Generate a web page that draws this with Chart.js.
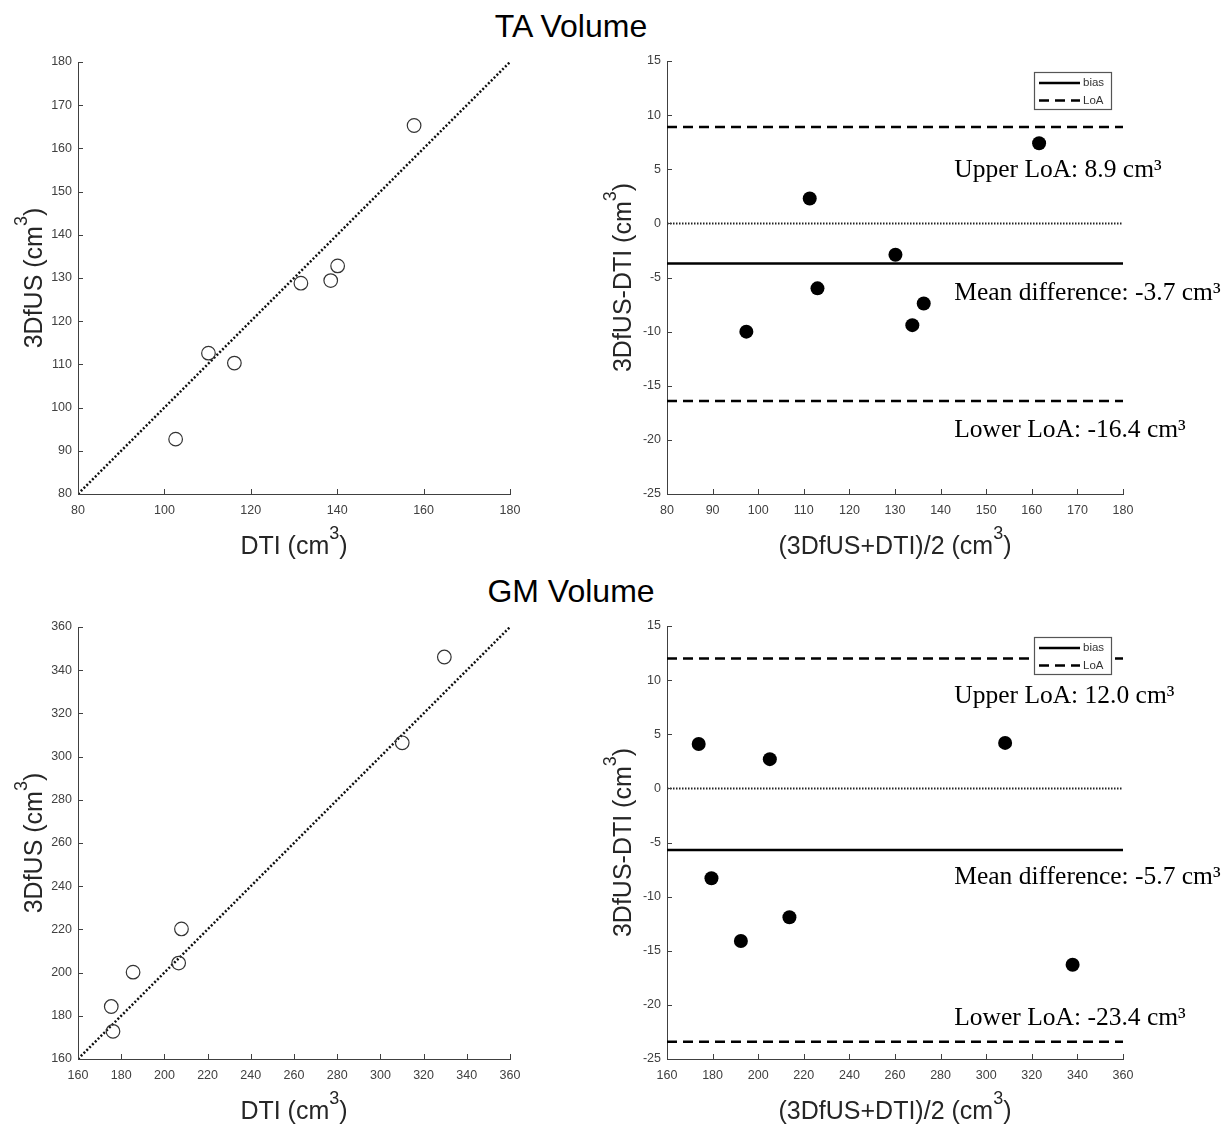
<!DOCTYPE html>
<html>
<head>
<meta charset="utf-8">
<script src="https://cdn.jsdelivr.net/npm/chart.js@4.4.1/dist/chart.umd.min.js"></script>
<style>
  body { margin: 0; background: #fff; width: 1228px; height: 1125px; position: relative; overflow: hidden; }
  .title { position: absolute; left: 371px; width: 400px; text-align: center; font: 32px/32px "Liberation Sans", Arial, sans-serif; color: #000; }
  canvas { position: absolute; }
</style>
</head>
<body>
<div class="title" style="top:10px">TA Volume</div>
<div class="title" style="top:575px">GM Volume</div>
<canvas id="taCorr" width="600" height="530" style="left:0;top:40px"></canvas>
<canvas id="taBA" width="628" height="530" style="left:600px;top:40px"></canvas>
<canvas id="gmCorr" width="600" height="525" style="left:0;top:600px"></canvas>
<canvas id="gmBA" width="628" height="525" style="left:600px;top:600px"></canvas>
<script>
/* ================= DATA ================= */
// TA volume: correlation (DTI vs 3DfUS)
const taDti = [102.6, 110.2, 116.2, 131.6, 138.5, 140.1, 157.8];
const taFus = [92.7, 112.6, 110.3, 128.8, 129.4, 132.8, 165.3];
// TA volume: Bland-Altman
const taMean = [97.4, 111.3, 113.0, 130.1, 133.8, 136.3, 161.6];
const taDiff = [-10.0, 2.3, -6.0, -2.9, -9.4, -7.4, 7.4];
const taBias = -3.7;
const taLoa = [8.9, -16.4];

// GM volume: correlation
const gmDti = [175.4, 176.2, 185.5, 206.6, 207.9, 310.1, 329.6];
const gmFus = [184.3, 172.8, 200.2, 204.4, 220.2, 306.4, 346.1];
// GM volume: Bland-Altman
const gmMean = [173.9, 179.5, 192.4, 205.1, 213.7, 308.3, 337.9];
const gmDiff = [4.1, -8.3, -14.1, 2.7, -11.9, 4.2, -16.3];
const gmBias = -5.7;
const gmLoa = [12.0, -23.4];

// axis ranges / tick steps
const taRange = [80, 180];
const gmRange = [160, 360];
const diffRange = [-25, 15];

/* ================= STYLE ================= */
const AXIS = "#404040";
const SANS = "'Liberation Sans', Arial, sans-serif";
const SERIF = "'Liberation Serif', 'Times New Roman', serif";

/* ================= PLUGINS ================= */
// matlab style ticks pointing into the plot
const inwardTicks = {
    id: "inwardTicks",
    afterDraw(chart) {
        const { ctx, chartArea: a, scales: { x, y } } = chart;
        ctx.save();
        ctx.strokeStyle = AXIS;
        ctx.lineWidth = 1;
        ctx.beginPath();
        x.ticks.forEach(t => {
            const px = Math.round(x.getPixelForValue(t.value)) + 0.5;
            ctx.moveTo(px, a.bottom);
            ctx.lineTo(px, a.bottom - 5);
        });
        y.ticks.forEach(t => {
            const py = Math.round(y.getPixelForValue(t.value)) + 0.5;
            ctx.moveTo(a.left, py);
            ctx.lineTo(a.left + 5, py);
        });
        ctx.stroke();
        ctx.restore();
    }
};

// text with a raised "3"
function drawSup(ctx, parts, cx, cy) {
    const big = "25px " + SANS, small = "18px " + SANS;
    ctx.font = big;
    const w1 = ctx.measureText(parts[0]).width;
    const w3 = ctx.measureText(parts[2]).width;
    ctx.font = small;
    const w2 = ctx.measureText(parts[1]).width;
    const x0 = cx - (w1 + w2 + w3) / 2;
    ctx.textAlign = "left";
    ctx.textBaseline = "alphabetic";
    ctx.font = big;
    ctx.fillText(parts[0], x0, cy);
    ctx.font = small;
    ctx.fillText(parts[1], x0 + w1, cy - 15);
    ctx.font = big;
    ctx.fillText(parts[2], x0 + w1 + w2, cy);
}

const axisTitles = {
    id: "axisTitles",
    afterDraw(chart, args, opts) {
        const { ctx, chartArea: a } = chart;
        ctx.save();
        ctx.fillStyle = "#262626";
        drawSup(ctx, opts.x, (a.left + a.right) / 2, a.bottom + 60);
        ctx.translate(a.left - 36, (a.top + a.bottom) / 2);
        ctx.rotate(-Math.PI / 2);
        drawSup(ctx, opts.y, 0, 0);
        ctx.restore();
    }
};

// bland-altman text labels + legend box
const baExtras = {
    id: "baExtras",
    afterDraw(chart, args, opts) {
        if (!opts.labels) return;
        const { ctx, chartArea: a, scales: { x, y } } = chart;
        ctx.save();
        ctx.fillStyle = "#000";
        ctx.font = "25.5px " + SERIF;
        ctx.textAlign = "left";
        ctx.textBaseline = "alphabetic";
        opts.labels.forEach(l => {
            ctx.fillText(l.text, x.getPixelForValue(opts.x), y.getPixelForValue(l.y));
        });

        // legend
        const bw = 77, bh = 37;
        const bx = a.right - 12 - bw, by = a.top + 11;
        ctx.fillStyle = "#fff";
        ctx.fillRect(bx, by, bw, bh);
        ctx.strokeStyle = "#555";
        ctx.lineWidth = 1.2;
        ctx.strokeRect(bx + 0.5, by + 0.5, bw, bh);
        const items = chart.data.datasets.filter(d => d.legend);
        items.forEach((d, i) => {
            const ly = by + 11 + i * 17.5;
            ctx.strokeStyle = d.borderColor;
            ctx.lineWidth = d.borderWidth;
            ctx.setLineDash(d.borderDash || []);
            ctx.beginPath();
            ctx.moveTo(bx + 5, ly);
            ctx.lineTo(bx + 46, ly);
            ctx.stroke();
            ctx.setLineDash([]);
            ctx.fillStyle = "#333";
            ctx.font = "11.5px " + SANS;
            ctx.textBaseline = "middle";
            ctx.fillText(d.label, bx + 49, ly);
        });
        ctx.restore();
    }
};

/* ================= BUILDERS ================= */
function pts(xs, ys) {
    return xs.map((v, i) => ({ x: v, y: ys[i] }));
}

function hline(range, v) {
    return [{ x: range[0], y: v }, { x: range[1], y: v }];
}

function scaleOpts(range, step, size, isX) {
    return {
        type: "linear",
        min: range[0],
        max: range[1],
        afterFit: s => { if (isX) s.height = size; else s.width = size; },
        grid: { display: false, drawTicks: false },
        border: { display: true, color: AXIS, width: 1 },
        ticks: {
            stepSize: step,
            autoSkip: false,
            maxRotation: 0,
            padding: isX ? 9 : 6,
            color: AXIS,
            font: { family: SANS, size: 12.5 }
        }
    };
}

function makeChart(id, datasets, p) {
    return new Chart(document.getElementById(id), {
        type: "scatter",
        data: { datasets },
        options: {
            responsive: false,
            animation: false,
            layout: { padding: { top: p.top, right: p.right, left: 0, bottom: 0 } },
            plugins: {
                legend: { display: false },
                tooltip: { enabled: false },
                axisTitles: { x: p.xTitle, y: p.yTitle },
                baExtras: p.extras || {}
            },
            scales: {
                x: scaleOpts(p.xRange, p.xStep, p.xh, true),
                y: scaleOpts(p.yRange, p.yStep, p.yw, false)
            }
        },
        plugins: [inwardTicks, axisTitles, baExtras]
    });
}

function corrSets(xs, ys, range) {
    return [
        {
            data: pts(xs, ys),
            pointRadius: 6.8,
            pointBorderWidth: 1.2,
            pointBorderColor: "#333",
            pointBackgroundColor: "rgba(0,0,0,0)"
        },
        {
            data: [{ x: range[0], y: range[0] }, { x: range[1], y: range[1] }],
            showLine: true,
            pointRadius: 0,
            borderColor: "#111",
            borderWidth: 2.5,
            borderDash: [2, 2]
        }
    ];
}

function baSets(xs, ys, range, bias, loa) {
    return [
        { data: pts(xs, ys), pointRadius: 7, pointBorderWidth: 0, pointBackgroundColor: "#000" },
        { label: "bias", legend: true, data: hline(range, bias), showLine: true, pointRadius: 0, borderColor: "#000", borderWidth: 2.5 },
        { label: "LoA", legend: true, data: hline(range, loa[0]), showLine: true, pointRadius: 0, borderColor: "#000", borderWidth: 2.5, borderDash: [10, 6] },
        { data: hline(range, loa[1]), showLine: true, pointRadius: 0, borderColor: "#000", borderWidth: 2.5, borderDash: [10, 6] },
        { data: hline(range, 0), showLine: true, pointRadius: 0, borderColor: "#222", borderWidth: 2, borderDash: [1.5, 1.5] }
    ];
}

function baLabels(bias, loa, ys) {
    return [
        { y: ys[0], text: "Upper LoA: " + loa[0].toFixed(1) + " cm³" },
        { y: ys[1], text: "Mean difference: " + bias.toFixed(1) + " cm³" },
        { y: ys[2], text: "Lower LoA: " + loa[1].toFixed(1) + " cm³" }
    ];
}

/* ================= CHARTS ================= */
const corrY = ["3DfUS (cm", "3", ")"];
const corrX = ["DTI (cm", "3", ")"];
const baY = ["3DfUS-DTI (cm", "3", ")"];
const baX = ["(3DfUS+DTI)/2 (cm", "3", ")"];

makeChart("taCorr", corrSets(taDti, taFus, taRange), {
    top: 22, right: 90, yw: 78, xh: 76,
    xRange: taRange, xStep: 20, yRange: taRange, yStep: 10,
    xTitle: corrX, yTitle: corrY
});

makeChart("taBA", baSets(taMean, taDiff, taRange, taBias, taLoa), {
    top: 21, right: 105, yw: 67, xh: 76,
    xRange: taRange, xStep: 10, yRange: diffRange, yStep: 5,
    xTitle: baX, yTitle: baY,
    extras: { x: 143, labels: baLabels(taBias, taLoa, [4.3, -7.1, -19.7]) }
});

makeChart("gmCorr", corrSets(gmDti, gmFus, gmRange), {
    top: 27, right: 90, yw: 78, xh: 66,
    xRange: gmRange, xStep: 20, yRange: gmRange, yStep: 20,
    xTitle: corrX, yTitle: corrY
});

makeChart("gmBA", baSets(gmMean, gmDiff, gmRange, gmBias, gmLoa), {
    top: 26, right: 105, yw: 67, xh: 66,
    xRange: gmRange, xStep: 20, yRange: diffRange, yStep: 5,
    xTitle: baX, yTitle: baY,
    extras: { x: 286, labels: baLabels(gmBias, gmLoa, [7.9, -8.8, -21.9]) }
});
</script>
</body>
</html>
